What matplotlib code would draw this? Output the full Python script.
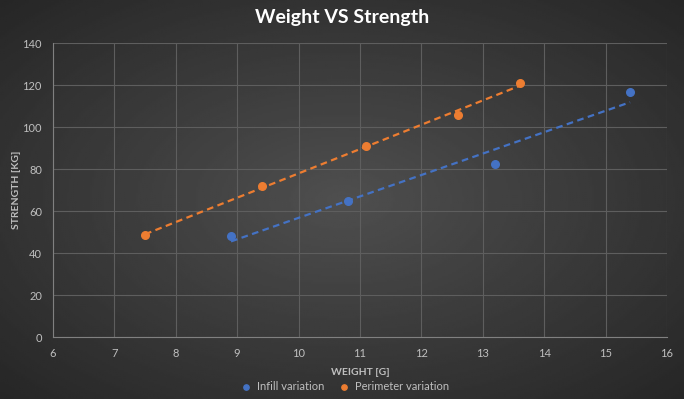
import matplotlib.pyplot as plt
import numpy as np

# data
infill_weight = [8.9, 10.8, 13.2, 15.4]
infill_strength = [48.1, 64.8, 82.3, 116.6]
perim_weight = [7.5, 9.4, 11.1, 12.6, 13.6]
perim_strength = [48.6, 72.0, 91.0, 105.6, 121.2]

blue = '#4472C4'
orange = '#ED7D31'
txt = '#BFBFBF'

plt.rcParams['font.family'] = ['Lato', 'DejaVu Sans']

fig = plt.figure(figsize=(6.84, 3.99), dpi=100)

# dark radial background like the Excel style
bg = fig.add_axes([0, 0, 1, 1])
yy, xx = np.mgrid[-1:1:200j, -1:1:340j]
r = np.sqrt(xx ** 2 + yy ** 2) / np.sqrt(2)
bg.imshow(0.31 - 0.16 * r, cmap='gray', vmin=0, vmax=1, aspect='auto', extent=[0, 1, 0, 1])
bg.axis('off')

ax = fig.add_axes([0.0775, 0.155, 0.8975, 0.737])
ax.patch.set_alpha(0)

ax.scatter(infill_weight, infill_strength, s=30, color=blue, zorder=3, label='Infill variation')
ax.scatter(perim_weight, perim_strength, s=30, color=orange, zorder=3, label='Perimeter variation')

# linear trend lines
for xs, ys, c in [(infill_weight, infill_strength, blue), (perim_weight, perim_strength, orange)]:
    k, b = np.polyfit(xs, ys, 1)
    xl = np.array([min(xs), max(xs)])
    ax.plot(xl, k * xl + b, ls=(0, (3, 2)), lw=1.6, color=c, zorder=2)

ax.set_xlim(6, 16)
ax.set_ylim(0, 140)
ax.set_xticks(range(6, 17))
ax.set_yticks(range(0, 141, 20))
ax.grid(True, color='#5e5e5e', lw=0.8)
ax.set_axisbelow(True)
for s in ['top', 'right']:
    ax.spines[s].set_visible(False)
for s in ['left', 'bottom']:
    ax.spines[s].set_color('#808080')
ax.tick_params(colors=txt, labelsize=8, length=0, pad=8)

ax.set_xlabel('WEIGHT [G]', color=txt, fontsize=7.5, fontweight='bold', labelpad=6)
ax.set_ylabel('STRENGTH [KG]', color=txt, fontsize=7.5, fontweight='bold', labelpad=1)

fig.text(0.5, 0.955, 'Weight VS Strength', ha='center', va='center', color='white',
         fontsize=14, fontweight='bold')

leg = fig.legend(loc='center', bbox_to_anchor=(0.5, 0.032), ncol=2, frameon=False,
                 fontsize=8, markerscale=0.7, handletextpad=0.0, columnspacing=0.8)
for t in leg.get_texts():
    t.set_color(txt)

fig.savefig('out.png', dpi=100)
